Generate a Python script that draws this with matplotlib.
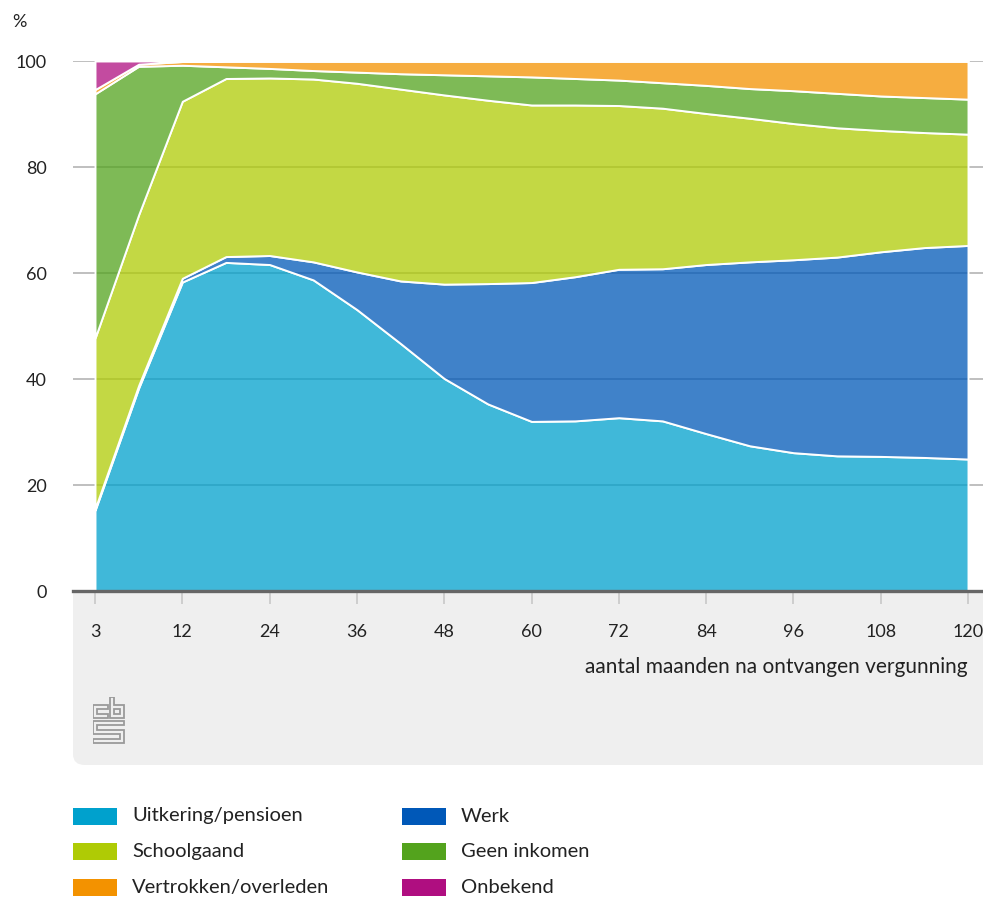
import numpy as np
import matplotlib
matplotlib.use("Agg")
import matplotlib.pyplot as plt
from matplotlib.colors import to_rgba
from matplotlib.patches import FancyBboxPatch, Rectangle, Polygon

# months since permit; points are equally spaced on the chart
months = [3, 6, 12, 18, 24, 30, 36, 42, 48, 54, 60, 66, 72, 78, 84, 90, 96, 102, 108, 114, 120]
tick_months = [3, 12, 24, 36, 48, 60, 72, 84, 96, 108, 120]

uitkering = [15.2, 38.3, 58.3, 62.0, 61.6, 58.7, 53.1, 46.7, 40.1, 35.3, 32.0,
             32.1, 32.7, 32.1, 29.7, 27.4, 26.1, 25.5, 25.4, 25.2, 24.9]
werk = [0.3, 0.5, 0.7, 1.1, 1.7, 3.4, 7.1, 11.8, 17.8, 22.7, 26.2,
        27.2, 28.0, 28.7, 31.9, 34.7, 36.4, 37.5, 38.6, 39.6, 40.3]
schoolgaand = [32.2, 32.2, 33.4, 33.6, 33.5, 34.5, 35.6, 36.2, 35.7, 34.6, 33.5,
               32.4, 30.9, 30.3, 28.5, 27.1, 25.7, 24.4, 22.9, 21.7, 21.0]
geen_inkomen = [46.1, 28.0, 6.8, 2.2, 1.8, 1.6, 2.1, 2.9, 3.8, 4.6, 5.3,
                5.0, 4.8, 4.8, 5.3, 5.6, 6.2, 6.5, 6.5, 6.6, 6.6]
vertrokken = [0.8, 0.4, 0.7, 1.1, 1.4, 1.8, 2.1, 2.4, 2.6, 2.8, 3.0,
              3.3, 3.6, 4.1, 4.6, 5.2, 5.6, 6.1, 6.6, 6.9, 7.2]
onbekend = [5.4, 0.6, 0.1, 0, 0, 0, 0, 0, 0, 0, 0,
            0, 0, 0, 0, 0, 0, 0, 0, 0, 0]

labels = ["Uitkering/pensioen", "Werk", "Schoolgaand", "Geen inkomen",
          "Vertrokken/overleden", "Onbekend"]
colors = ["#00a1cd", "#0058b8", "#afcb05", "#53a31d", "#f39200", "#af0e80"]

plt.rcParams['font.family'] = ['Lato', 'DejaVu Sans']
txt = "#222222"

W, H = 983, 897
fig = plt.figure(figsize=(W / 100, H / 100), dpi=100)

def fx(px):
    return px / W

def fy(py):
    return 1 - py / H

# grey panel under the x axis
panel = FancyBboxPatch((fx(73), fy(765)), fx(1010 - 73), fy(560) - fy(765),
                       boxstyle="round,pad=0,rounding_size=0.012",
                       transform=fig.transFigure, facecolor="#efefef",
                       edgecolor="none", zorder=-5)
fig.patches.append(panel)

ax = fig.add_axes([fx(73), fy(591), fx(983 - 73), fy(61) - fy(591)])
x = np.arange(len(months))
series = [uitkering, werk, schoolgaand, geen_inkomen, vertrokken, onbekend]
ax.stackplot(x, *series, colors=[to_rgba(c, 0.75) for c in colors],
             edgecolor="white", linewidth=1.4, zorder=2)

ax.set_xlim(-22 / 43.65, 20 + 15 / 43.65)
ax.set_ylim(0, 100)
ax.set_yticks(range(0, 101, 20))
ax.yaxis.grid(True, color="#b4b4b4", linewidth=1.2)
ax.set_axisbelow(True)
for s in ["top", "right", "left"]:
    ax.spines[s].set_visible(False)
ax.spines["bottom"].set_color("#666666")
ax.spines["bottom"].set_linewidth(2.4)
ax.spines["bottom"].set_zorder(5)

ax.set_xticks([months.index(m) for m in tick_months])
ax.set_xticklabels([str(m) for m in tick_months])
ax.tick_params(axis="x", direction="out", length=9, width=1.2, color="#c8c8c8",
               pad=15, labelsize=13, labelcolor=txt)
ax.tick_params(axis="y", length=0, pad=19, labelsize=13, labelcolor=txt)

fig.text(fx(12), fy(22), "%", fontsize=13, color=txt, va="center", ha="left")
fig.text(fx(968), fy(667), "aantal maanden na ontvangen vergunning", fontsize=15,
         color=txt, ha="right", va="center")

# simple cbs logo
lax = fig.add_axes([fx(93), fy(745), fx(32), fy(697) - fy(745)])
lax.set_xlim(0, 32)
lax.set_ylim(48, 0)
lax.axis("off")
lg = dict(facecolor="none", edgecolor="#9a9a9a", linewidth=1.3)
lax.add_patch(Polygon([(0, 8), (15, 8), (15, 12), (4, 12), (4, 17), (15, 17),
                       (15, 21), (0, 21)], closed=True, **lg))
lax.add_patch(Polygon([(17, 0), (21, 0), (21, 8), (31, 8), (31, 21), (17, 21)],
                      closed=True, **lg))
lax.add_patch(Rectangle((21, 12), 6, 5, **lg))
lax.add_patch(Polygon([(0, 24), (31, 24), (31, 28), (4, 28), (4, 33), (31, 33),
                       (31, 46), (0, 46), (0, 42), (27, 42), (27, 37), (0, 37)],
                      closed=True, **lg))

# legend, two columns
order = [0, 2, 4, 1, 3, 5]
for k, i in enumerate(order):
    col, row = divmod(k, 3)
    x0 = 73 + col * 329
    yc = 816 + row * 35.5
    fig.patches.append(Rectangle((fx(x0), fy(yc + 8.5)), fx(44), fy(yc - 8.5) - fy(yc + 8.5),
                                 transform=fig.transFigure, facecolor=colors[i],
                                 edgecolor="none"))
    fig.text(fx(x0 + 59), fy(yc), labels[i], fontsize=14.5, color=txt,
             ha="left", va="center")

fig.savefig("out.png", dpi=100)
